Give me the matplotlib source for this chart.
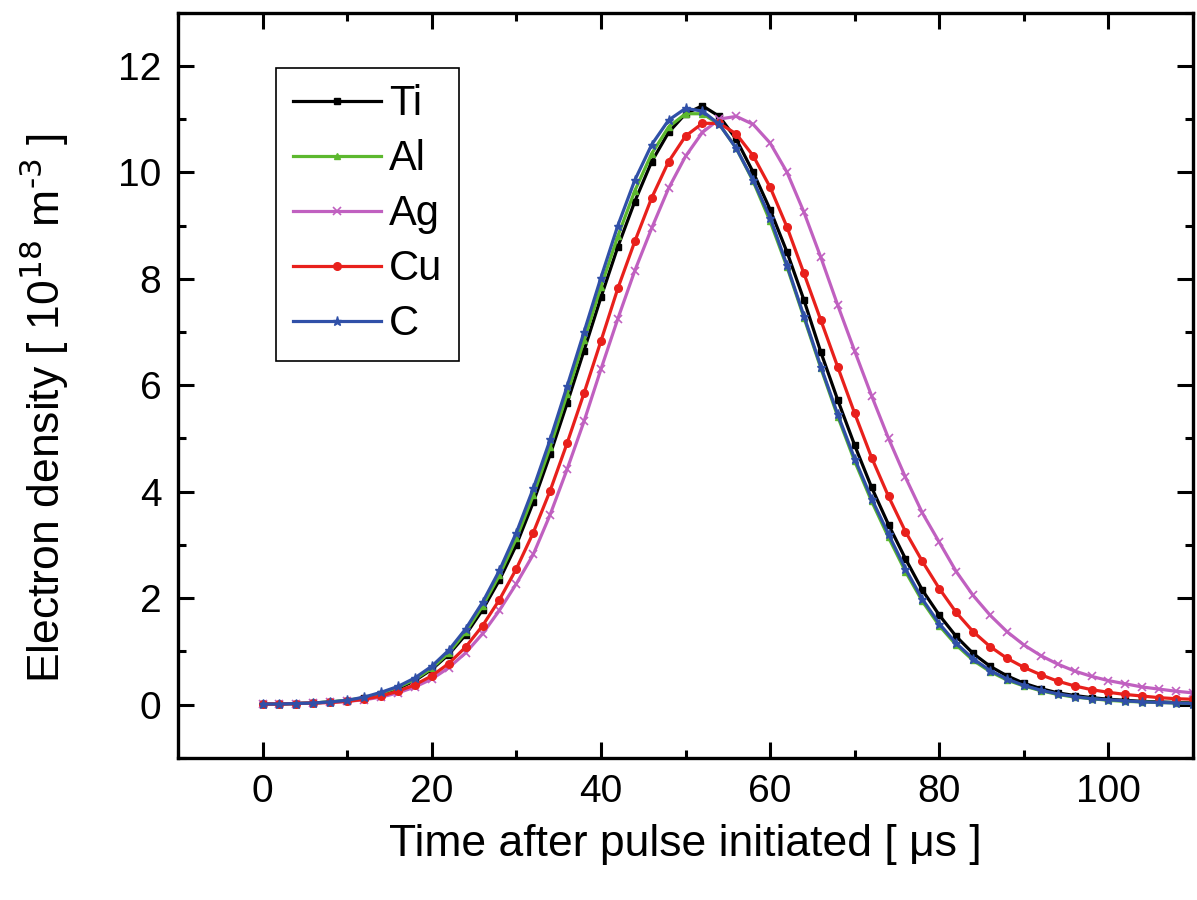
import numpy as np
import matplotlib
matplotlib.use('Agg')
import matplotlib.pyplot as plt
from matplotlib.ticker import MultipleLocator

plt.rcParams['font.family'] = ['Liberation Sans', 'DejaVu Sans']

# time after pulse initiated (us), one sample every 2 us
t = np.arange(0, 111, 2)

ti = [0.01, 0.01, 0.02, 0.03, 0.05, 0.07, 0.12, 0.20, 0.30, 0.45, 0.66, 0.94, 1.31, 1.78,
      2.34, 3.00, 3.80, 4.70, 5.66, 6.65, 7.65, 8.60, 9.45, 10.20, 10.75, 11.10, 11.25, 11.05,
      10.62, 10.00, 9.30, 8.50, 7.60, 6.62, 5.72, 4.87, 4.08, 3.38, 2.74, 2.15, 1.68, 1.28,
      0.96, 0.72, 0.54, 0.40, 0.30, 0.22, 0.17, 0.13, 0.10, 0.08, 0.06, 0.05, 0.04, 0.03]
al = [0.01, 0.01, 0.02, 0.03, 0.05, 0.08, 0.13, 0.21, 0.32, 0.47, 0.68, 0.97, 1.36, 1.85,
      2.43, 3.12, 3.93, 4.84, 5.83, 6.84, 7.85, 8.80, 9.65, 10.35, 10.85, 11.10, 11.10, 10.90,
      10.45, 9.83, 9.08, 8.22, 7.27, 6.32, 5.41, 4.57, 3.82, 3.14, 2.50, 1.94, 1.48, 1.12,
      0.83, 0.62, 0.46, 0.35, 0.26, 0.19, 0.14, 0.11, 0.08, 0.06, 0.05, 0.04, 0.03, 0.02]
ag = [0.01, 0.01, 0.02, 0.03, 0.04, 0.06, 0.09, 0.14, 0.22, 0.33, 0.48, 0.69, 0.97, 1.33,
      1.77, 2.27, 2.82, 3.57, 4.42, 5.32, 6.30, 7.25, 8.15, 8.95, 9.70, 10.30, 10.75, 11.00,
      11.05, 10.90, 10.55, 10.00, 9.25, 8.40, 7.50, 6.64, 5.80, 5.00, 4.27, 3.60, 3.05, 2.50,
      2.05, 1.68, 1.37, 1.12, 0.92, 0.76, 0.63, 0.53, 0.45, 0.39, 0.33, 0.29, 0.25, 0.22]
cu = [0.01, 0.01, 0.02, 0.03, 0.04, 0.06, 0.10, 0.16, 0.25, 0.37, 0.54, 0.77, 1.08, 1.48,
      1.97, 2.55, 3.23, 4.02, 4.91, 5.85, 6.83, 7.82, 8.70, 9.52, 10.20, 10.68, 10.92, 10.92,
      10.72, 10.31, 9.72, 8.97, 8.10, 7.22, 6.34, 5.47, 4.64, 3.91, 3.25, 2.69, 2.18, 1.73,
      1.37, 1.09, 0.87, 0.70, 0.56, 0.44, 0.35, 0.28, 0.23, 0.19, 0.16, 0.13, 0.11, 0.10]
c = [0.01, 0.01, 0.02, 0.03, 0.05, 0.08, 0.14, 0.23, 0.34, 0.50, 0.72, 1.02, 1.42, 1.92,
     2.52, 3.23, 4.06, 4.98, 5.98, 7.00, 8.02, 9.00, 9.85, 10.52, 10.98, 11.20, 11.15, 10.90,
     10.45, 9.85, 9.15, 8.25, 7.30, 6.35, 5.45, 4.62, 3.87, 3.20, 2.55, 1.98, 1.52, 1.15,
     0.86, 0.64, 0.48, 0.36, 0.27, 0.20, 0.15, 0.11, 0.09, 0.07, 0.05, 0.04, 0.03, 0.02]

fig = plt.figure(figsize=(11.97, 9.0), dpi=100)
ax = fig.add_axes([0.1487, 0.158, 0.848, 0.828])

ax.plot(t, ti, color='black', lw=2.3, marker='s', ms=4.5, label='Ti')
ax.plot(t, al, color='#5cb82e', lw=2.3, marker='^', ms=4.5, label='Al')
ax.plot(t, ag, color='#c060c0', lw=2.3, marker='x', ms=5.5, mew=1.2, label='Ag')
ax.plot(t, cu, color='#e8201c', lw=2.3, marker='o', ms=5.5, label='Cu')
ax.plot(t, c, color='#3050a8', lw=2.3, marker='*', ms=6.5, label='C')

ax.set_xlim(-10, 110)
ax.set_ylim(-1, 13)
ax.xaxis.set_major_locator(MultipleLocator(20))
ax.xaxis.set_minor_locator(MultipleLocator(10))
ax.yaxis.set_major_locator(MultipleLocator(2))
ax.yaxis.set_minor_locator(MultipleLocator(1))
ax.tick_params(which='both', direction='in', top=True, right=True, width=2.2)
ax.tick_params(which='major', length=11.5, labelsize=28, pad=12)
ax.tick_params(which='minor', length=6)
for s in ax.spines.values():
    s.set_linewidth(2.4)

ax.set_xlabel('Time after pulse initiated [ \u03bcs ]', fontsize=32, labelpad=10)
ax.set_ylabel('Electron density [ 10$^{18}$ m$^{\\text{-}3}$ ]', fontsize=32)
ax.yaxis.set_label_coords(-0.105, 0.47)

leg = ax.legend(loc='upper left', bbox_to_anchor=(0.097, 0.926), borderaxespad=0,
                fontsize=30, handlelength=2.1, labelspacing=0.36, handletextpad=0.2,
                fancybox=False, edgecolor='black', framealpha=1, borderpad=0.4)
leg.get_frame().set_linewidth(1.2)

fig.savefig('out.png', dpi=100)
